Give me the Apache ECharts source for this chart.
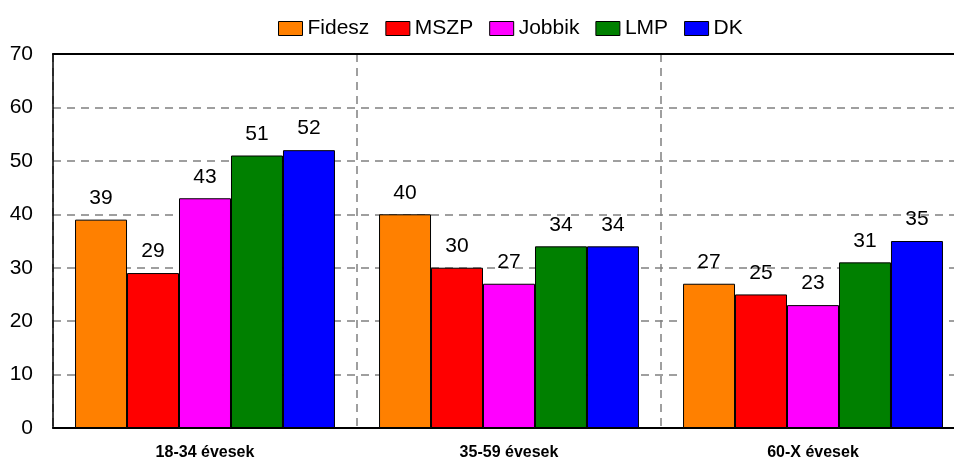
<!DOCTYPE html>
<html>
<head>
<meta charset="utf-8">
<script src="https://cdn.jsdelivr.net/npm/echarts@6/dist/echarts.min.js"></script>
<style>
  html, body { margin: 0; padding: 0; background: #fff; }
  #chart { width: 954px; height: 466px; }
</style>
</head>
<body>
<div id="chart"></div>
<script>
// korcsoportok
var categories = ['18-34 évesek', '35-59 évesek', '60-X évesek'];
var parties = ['Fidesz', 'MSZP', 'Jobbik', 'LMP', 'DK'];
var colors = ['#FF8000', '#FF0000', '#FF00FF', '#008000', '#0000FF'];

var fidesz = [39, 40, 27];
var mszp = [29, 30, 25];
var jobbik = [43, 27, 23];
var lmp = [51, 34, 31];
var dk = [52, 34, 35];

var yTicks = [0, 10, 20, 30, 40, 50, 60, 70];

var values = [fidesz, mszp, jobbik, lmp, dk];
var font = 'Arial, "Liberation Sans", sans-serif';

var myChart = echarts.init(document.getElementById('chart'));

var series = [];
for (var i = 0; i < parties.length; i++) {
    series.push({
        name: parties[i],
        type: 'bar',
        data: values[i],
        barGap: '0%',
        barCategoryGap: '14.5%',
        itemStyle: {
            color: colors[i],
            borderColor: '#000',
            borderWidth: 1
        },
        label: {
            show: true,
            position: 'top',
            distance: 11,
            fontFamily: font,
            fontSize: 21,
            color: '#000'
        }
    });
}

var option = {
    animation: false,
    legend: {
        data: parties,
        left: 273,
        top: 13,
        itemWidth: 24,
        itemHeight: 14,
        itemGap: 16,
        icon: 'rect',
        itemStyle: { borderColor: '#000', borderWidth: 1 },
        textStyle: { fontFamily: font, fontSize: 21, color: '#000' }
    },
    grid: {
        left: 53,
        top: 54,
        width: 912,
        height: 374,
        outerBoundsMode: 'none'
    },
    xAxis: [{
        type: 'category',
        data: categories,
        axisLine: { lineStyle: { color: '#000', width: 2 } },
        axisTick: { show: false },
        axisLabel: {
            fontFamily: font,
            fontSize: 16,
            fontWeight: 'bold',
            color: '#000',
            margin: 17
        },
        splitLine: {
            show: true,
            lineStyle: { color: '#808080', type: [8, 6], width: 1.5 }
        }
    }, {
        type: 'category',
        data: categories,
        position: 'top',
        axisLine: { show: true, onZero: false, lineStyle: { color: '#000', width: 2 } },
        axisTick: { show: false },
        axisLabel: { show: false }
    }],
    yAxis: {
        type: 'value',
        min: yTicks[0],
        max: yTicks[yTicks.length - 1],
        interval: 10,
        axisLine: { show: true, lineStyle: { color: '#000', width: 1.5 } },
        axisTick: { show: false },
        axisLabel: {
            fontFamily: font,
            fontSize: 21,
            color: '#000',
            margin: 20
        },
        splitLine: {
            lineStyle: { color: '#808080', type: [8, 6], width: 1.5 }
        }
    },
    series: series
};

myChart.setOption(option);
</script>
</body>
</html>
